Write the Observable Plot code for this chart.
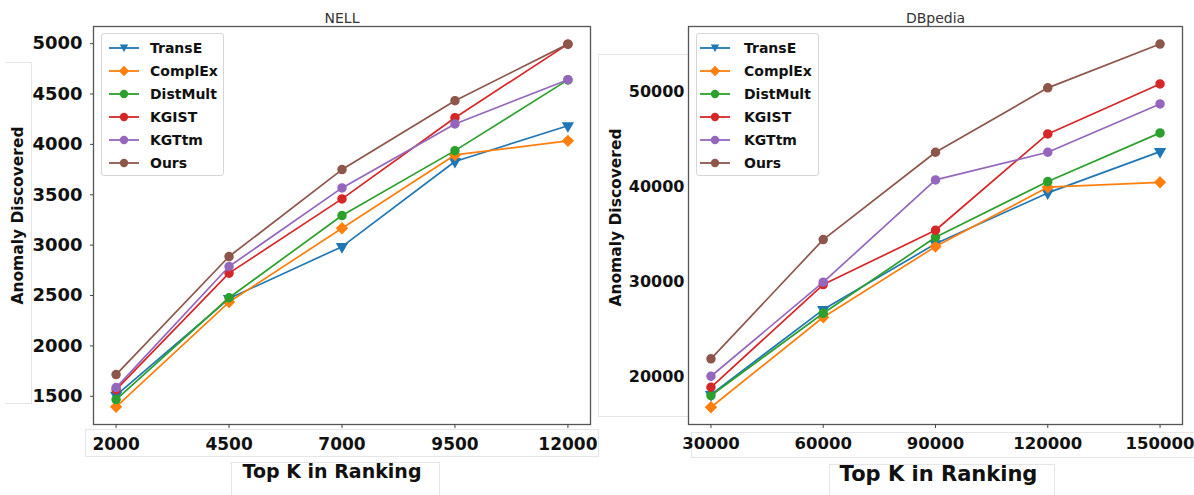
<!DOCTYPE html>
<html><head><meta charset="utf-8">
<script src="https://cdn.jsdelivr.net/npm/d3@7"></script>
<script src="https://cdn.jsdelivr.net/npm/@observablehq/plot@0.6"></script>
<style>
body{margin:0;background:#fff}
#wrap{position:relative;width:1194px;height:495px;overflow:hidden;font-family:"DejaVu Sans",sans-serif;background:#fff}
.panel{position:absolute;top:0}
.box{position:absolute;border:1px solid #e6e6e6;box-sizing:border-box}
.legend{position:absolute;background:rgba(255,255,255,0.85);border:1px solid #d6d6d6;border-radius:3px;box-sizing:border-box}
.row{position:absolute;height:20px;display:flex;align-items:center;font:bold 14px "DejaVu Sans";color:#111}
.row svg{position:absolute;left:0;top:0}
</style>
</head><body><div id="wrap"></div>
<script>
const methods = ["TransE","ComplEx","DistMult","KGIST","KGTtm","Ours"];
const colors = ["#1f77b4","#ff7f0e","#2ca02c","#d62728","#9467bd","#8c564b"];
const symbols = ["triangle","diamond2","circle","circle","circle","circle"];

const nellK = [2000,4500,7000,9500,12000];
const nellTransE   = [1510,2470,2985,3830,4185];
const nellComplEx  = [1395,2435,3168,3895,4035];
const nellDistMult = [1467,2478,3294,3938,4640];
const nellKGIST    = [1566,2722,3459,4265,4995];
const nellKGTtm    = [1586,2788,3568,4203,4642];
const nellOurs     = [1715,2887,3750,4434,4995];
const nellYTicks = [1500,2000,2500,3000,3500,4000,4500,5000];

const dbK = [30000,60000,90000,120000,150000];
const dbTransE   = [18100,27050,33970,39330,43680];
const dbComplEx  = [16770,26240,33680,39930,40450];
const dbDistMult = [18000,26660,34670,40530,45650];
const dbKGIST    = [18870,29680,35400,45540,50800];
const dbKGTtm    = [20030,29930,40700,43610,48700];
const dbOurs     = [21860,34420,43610,50390,55000];
const dbYTicks = [20000,30000,40000,50000];

function rowsOf(ks, series){
  return methods.map((m,i)=>series[i].map((v,j)=>({method:m,k:ks[j],v}))).flat();
}

function panel(o){
  const rows = rowsOf(o.ks, o.series);
  const marks = [
    Plot.frame({stroke:"#555", strokeWidth:1.3}),
    Plot.axisY({ticks:o.yTicks, tickFormat:d3.format("d"), tickSize:o.yTickSize, tickPadding:o.yTickPad, fontSize:o.yFont, fontWeight:"bold", fill:"#111", stroke:"#444", label:null}),
    Plot.axisX({ticks:o.ks, tickFormat:d3.format("d"), tickSize:4, tickPadding:9, fontSize:o.xFont, fontWeight:"bold", fill:"#111", stroke:"#444", label:null}),
    Plot.text([o.title], {frameAnchor:"top", dy:-13, fontSize:14, fill:"#333"}),
    Plot.text(["Anomaly Discovered"], {frameAnchor:"left", textAnchor:"middle", rotate:-90, dx:o.ylDx, dy:o.ylDy, fontSize:15.5, fontWeight:"bold", fill:"#111"}),
    Plot.text(["Top K in Ranking"], {frameAnchor:"bottom", textAnchor:"middle", dx:o.xlDx, dy:o.xlDy, fontSize:o.xlFont, fontWeight:"bold", fill:"#111"})
  ];
  methods.forEach((m,i)=>{
    const d = rows.filter(r=>r.method===m);
    marks.push(Plot.line(d, {x:"k", y:"v", stroke:colors[i], strokeWidth:1.7}));
    marks.push(Plot.dot(d, {x:"k", y:"v", fill:colors[i], stroke:colors[i], symbol:symbols[i], r: i===0?3.6:(i===1?4.6:4), rotate: i===0?180:0}));
  });
  return Plot.plot({
    width:597, height:495,
    marginLeft:o.ml, marginRight:o.mr, marginTop:26, marginBottom:71,
    x:{domain:o.xDomain},
    y:{domain:o.yDomain},
    style:{fontFamily:"DejaVu Sans", background:"transparent", overflow:"visible"},
    marks
  });
}

function legend(left, top, sw, tx){
  const lg = document.createElement("div");
  lg.className="legend";
  lg.style.left=left+"px"; lg.style.top=top+"px";
  lg.style.width="123px"; lg.style.height="143px";
  methods.forEach((m,i)=>{
    const r=document.createElement("div");
    r.className="row";
    r.style.left=sw+"px"; r.style.top=(4+i*23)+"px"; r.style.width=(120-sw)+"px";
    let mk;
    if(i===0) mk=`<path d="M10.8,6.5 L19.2,6.5 L15,14 Z" fill="${colors[i]}"/>`;
    else if(i===1) mk=`<path d="M15,4.8 L20.2,10 L15,15.2 L9.8,10 Z" fill="${colors[i]}"/>`;
    else mk=`<circle cx="15" cy="10" r="4.2" fill="${colors[i]}"/>`;
    r.innerHTML=`<svg width="32" height="20"><line x1="0" y1="10" x2="30" y2="10" stroke="${colors[i]}" stroke-width="1.8"/>${mk}</svg><span style="position:absolute;left:${tx}px">${m}</span>`;
    lg.appendChild(r);
  });
  return lg;
}

function box(l,t,w,h,extra){
  const b=document.createElement("div");
  b.className="box";
  b.style.left=l+"px"; b.style.top=t+"px"; b.style.width=w+"px"; b.style.height=h+"px";
  if(extra) Object.assign(b.style, extra);
  return b;
}

const wrap=document.getElementById("wrap");
[box(5,62,27,342,{borderLeft:"none"}), box(85,429,514,28), box(231,462,209,40),
 box(598,54,91,363), box(691,432,510,26), box(829,464,226,40)].forEach(b=>wrap.appendChild(b));

const p1 = panel({title:"NELL", ks:nellK, series:[nellTransE,nellComplEx,nellDistMult,nellKGIST,nellKGTtm,nellOurs],
  xDomain:[1500,12500], yDomain:[1220,5170], yTicks:nellYTicks, ml:93, mr:7,
  yTickSize:3, yTickPad:8, yFont:18, xFont:17, ylDx:-75, ylDy:-10, xlDx:-10, xlDy:53, xlFont:19});
const p2 = panel({title:"DBpedia", ks:dbK, series:[dbTransE,dbComplEx,dbDistMult,dbKGIST,dbKGTtm,dbOurs],
  xDomain:[24000,156000], yDomain:[14950,56850], yTicks:dbYTicks, ml:91, mr:12,
  yTickSize:0, yTickPad:4, yFont:16, xFont:16.5, ylDx:-72.5, ylDy:-8, xlDx:3, xlDy:56, xlFont:21});
const d1=document.createElement("div"); d1.className="panel"; d1.style.left="0px"; d1.appendChild(p1);
const d2=document.createElement("div"); d2.className="panel"; d2.style.left="597px"; d2.appendChild(p2);
wrap.appendChild(d1); wrap.appendChild(d2);
wrap.appendChild(legend(101,33,7,41));
wrap.appendChild(legend(696,33,3,44));
</script></body></html>
